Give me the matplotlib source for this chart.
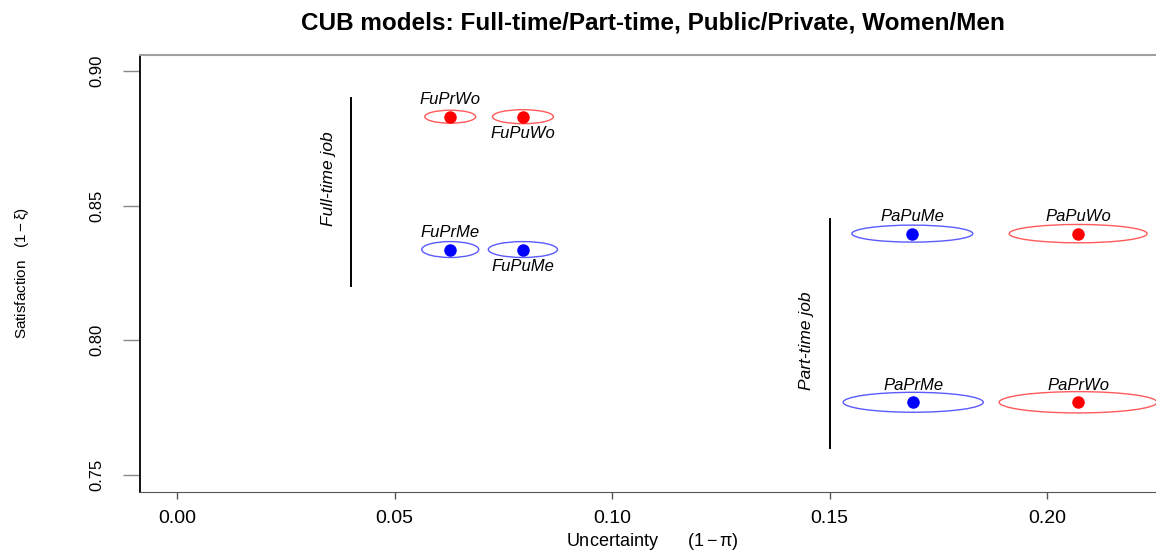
import matplotlib
matplotlib.use('Agg')
import matplotlib.pyplot as plt
from matplotlib.patches import Ellipse

plt.rcParams['font.family'] = ['Liberation Sans', 'DejaVu Sans']
plt.rcParams['mathtext.fontset'] = 'custom'
plt.rcParams['mathtext.rm'] = 'Liberation Sans'
plt.rcParams['mathtext.it'] = 'Liberation Sans:italic'

# CUB estimates: uncertainty (1 - pi), satisfaction (1 - xi)
groups = ['FuPrWo', 'FuPuWo', 'FuPrMe', 'FuPuMe', 'PaPuMe', 'PaPuWo', 'PaPrMe', 'PaPrWo']
uncert = [0.0628, 0.0795, 0.0628, 0.0795, 0.1690, 0.2071, 0.1692, 0.2071]
satisf = [0.8830, 0.8830, 0.8337, 0.8337, 0.8396, 0.8396, 0.7770, 0.7770]
# confidence ellipse sizes (full width in x, full height in y)
ell_w = [0.0117, 0.0140, 0.0131, 0.0159, 0.0278, 0.0317, 0.0322, 0.0363]
ell_h = [0.0048, 0.0052, 0.0059, 0.0059, 0.0063, 0.0068, 0.0074, 0.0079]
sex = ['Wo', 'Wo', 'Me', 'Me', 'Me', 'Wo', 'Me', 'Wo']
# label above (+1) or below (-1) the point
label_side = [1, -1, 1, -1, 1, 1, 1, 1]

x_ticks = [0.00, 0.05, 0.10, 0.15, 0.20]
y_ticks = [0.75, 0.80, 0.85, 0.90]

point_col = {'Wo': '#ff0000', 'Me': '#0000ff'}
ell_col = {'Wo': '#ff5a5a', 'Me': '#5a5aff'}

fig = plt.figure(figsize=(11.56, 5.51), dpi=100)
ax = fig.add_axes([140 / 1156, 1 - 492 / 551, 1 - 140 / 1156, (492 - 55) / 551])
ax.set_xlim(-0.0085, 0.225)
ax.set_ylim(0.7437, 0.9059)

for i, g in enumerate(groups):
    e = Ellipse((uncert[i], satisf[i]), ell_w[i], ell_h[i], fill=False,
                edgecolor=ell_col[sex[i]], lw=1.0)
    ax.add_patch(e)
    ax.plot(uncert[i], satisf[i], 'o', color=point_col[sex[i]], ms=9, mec='none')
    ax.text(uncert[i], satisf[i] + label_side[i] * 0.0062, g, ha='center', va='center',
            style='italic', fontsize=12)

# group separators
ax.plot([0.04, 0.04], [0.82, 0.89], color='black', lw=1.4)
ax.text(0.0348, 0.860, 'Full-time job', rotation=90, ha='center', va='center',
        style='italic', fontsize=12.5)
ax.plot([0.15, 0.15], [0.76, 0.845], color='black', lw=1.4)
ax.text(0.1446, 0.800, 'Part-time job', rotation=90, ha='center', va='center',
        style='italic', fontsize=12.5)

ax.set_xticks(x_ticks)
ax.set_xticklabels(['%.2f' % v for v in x_ticks], fontsize=14)
ax.set_yticks(y_ticks)
ax.set_yticklabels(['%.2f' % v for v in y_ticks], fontsize=12, rotation=90, va='center')
ax.tick_params(axis='x', length=5, width=1, color='#555555', pad=8)
ax.tick_params(axis='y', length=12, width=1, color='#888888', pad=14)

ax.spines['right'].set_visible(False)
ax.spines['left'].set_color('black')
ax.spines['left'].set_linewidth(1.3)
ax.spines['bottom'].set_color('#555555')
ax.spines['top'].set_color('#a0a0a0')
ax.spines['top'].set_linewidth(1.5)

fig.text(653 / 1156, 1 - 23 / 551, 'CUB models: Full-time/Part-time, Public/Private, Women/Men',
         ha='center', va='center', fontsize=17.5, fontweight='bold')
fig.text(22 / 1156, 1 - 273 / 551, r'Satisfaction   $(1-\mathrm{\xi})$', rotation=90,
         ha='center', va='center', fontsize=11)
fig.text(652 / 1156, 1 - 541 / 551, r'Uncertainty      $(1-\mathrm{\pi})$',
         ha='center', va='center', fontsize=13)

fig.savefig('out.png', dpi=100)
